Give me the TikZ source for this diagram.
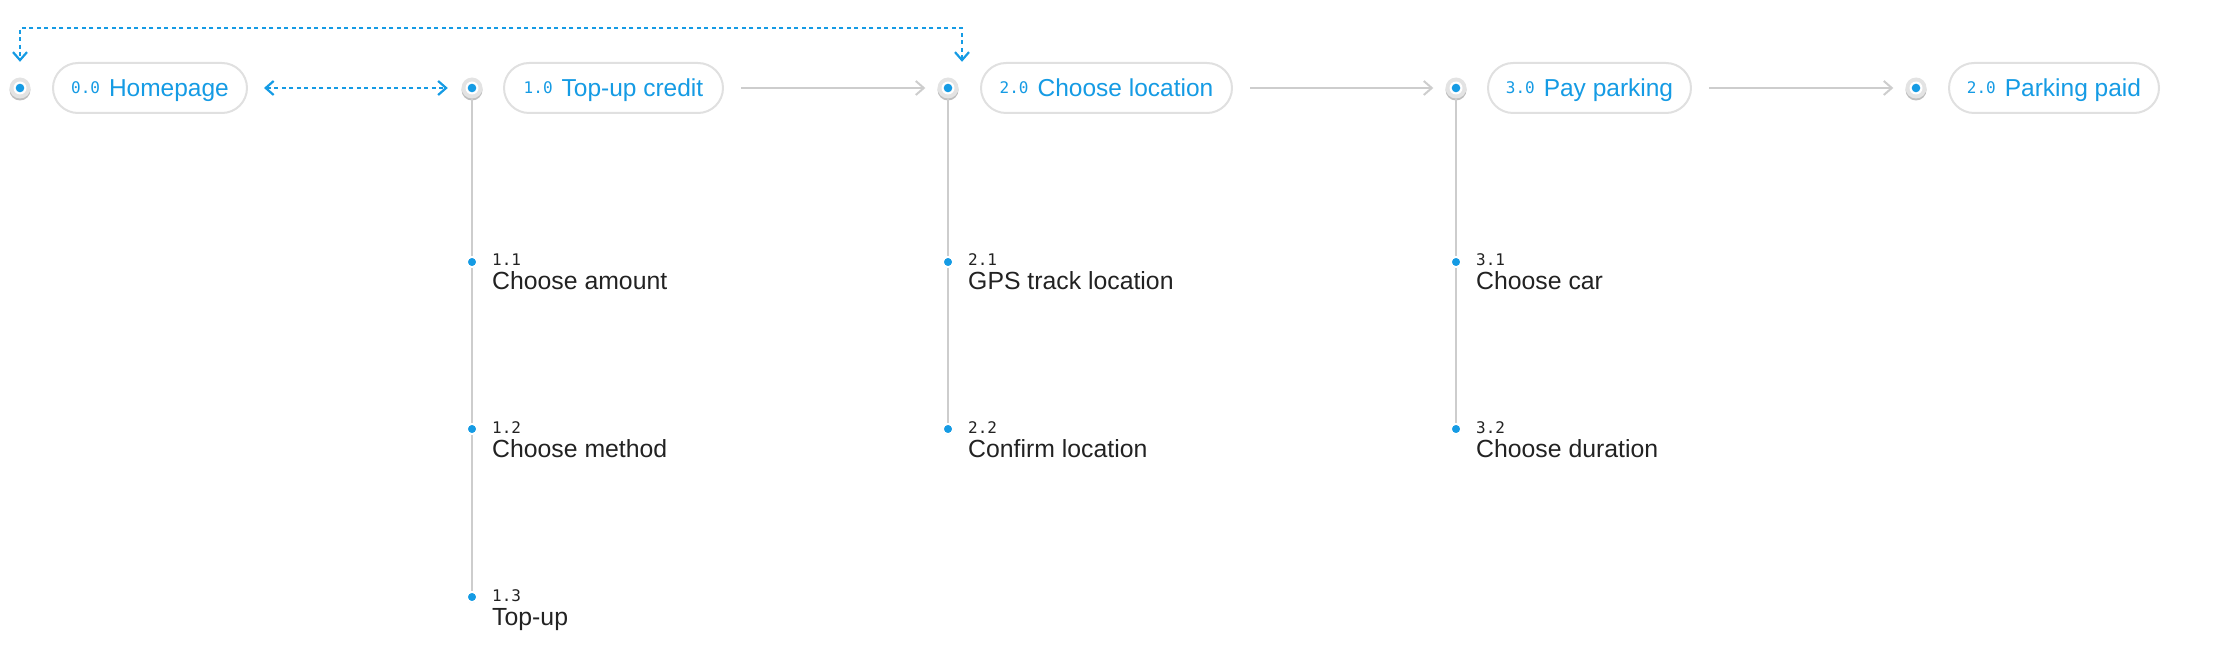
\documentclass[tikz,border=0pt]{standalone}
\usepackage{fontspec}
\setmainfont{Liberation Sans}
\newfontfamily\monofont{DejaVu Sans Mono}
\usetikzlibrary{arrows.meta,positioning,shadows}

\definecolor{brand}{HTML}{159BE4}
\definecolor{linegrey}{HTML}{CDCDCD}
\definecolor{pillgrey}{HTML}{E0E0E0}
\definecolor{hubgrey}{HTML}{E3E3E3}
\definecolor{textdark}{HTML}{222222}

\newcommand{\stepno}[1]{\raisebox{3.5pt}{\monofont\fontsize{16}{17}\selectfont #1}}

\tikzset{
  hub/.style={circle,minimum size=21pt,inner sep=0pt,fill=hubgrey,
    drop shadow={shadow xshift=0pt,shadow yshift=-2pt,opacity=0.25,fill=black},
    path picture={\fill[white] (path picture bounding box.center) circle (6.5pt);
                  \fill[brand] (path picture bounding box.center) circle (4.3pt);}},
  pill/.style={draw=pillgrey,line width=2pt,fill=white,rounded corners=25pt,
    minimum height=50pt,text height=17.5pt,text depth=0pt,inner xsep=0pt,
    text=brand,font=\fontsize{24.5}{26}\selectfont},
  subdot/.style={circle,inner sep=0pt,minimum size=10.5pt,fill=brand,draw=white,line width=2pt,
    drop shadow={shadow xshift=0pt,shadow yshift=-1pt,opacity=0.12,fill=black}},
  subno/.style={anchor=base west,inner sep=0pt,text=textdark,font=\monofont\fontsize{16}{17}\selectfont},
  subtext/.style={anchor=base west,inner sep=0pt,text=textdark,font=\fontsize{24.8}{26}\selectfont},
  flowline/.style={draw=linegrey,line width=2pt,-{Straight Barb[length=8pt,width=14pt]}},
  stemline/.style={draw=linegrey,line width=2pt},
  backlink/.style={draw=brand,line width=2.2pt,dash pattern=on 4pt off 3.5pt,
    {Straight Barb[length=8pt,width=14pt]}-{Straight Barb[length=8pt,width=14pt]}},
}

\begin{document}
\begin{tikzpicture}[x=1pt,y=-1pt]
  \useasboundingbox (0,0) rectangle (2236,668);

  % main row
  \node[hub] (h0) at (20,88) {};
  \node[pill,minimum width=194pt] (p0) at (150,88) {\stepno{0.0}\hspace{9pt}Homepage};
  \node[hub] (h1) at (472,88) {};
  \node[pill,minimum width=219pt] (p1) at (613.5,88) {\stepno{1.0}\hspace{9pt}Top-up credit};
  \node[hub] (h2) at (948,88) {};
  \node[pill,minimum width=251pt] (p2) at (1106.5,88) {\stepno{2.0}\hspace{9pt}Choose location};
  \node[hub] (h3) at (1456,88) {};
  \node[pill,minimum width=203pt] (p3) at (1589.5,88) {\stepno{3.0}\hspace{9pt}Pay parking};
  \node[hub] (h4) at (1916,88) {};
  \node[pill,minimum width=210pt] (p4) at (2054,88) {\stepno{2.0}\hspace{9pt}Parking paid};

  \draw[backlink,shorten <=16pt,shorten >=13.5pt] (p0) -- (h1);
  \draw[flowline,shorten <=17pt,shorten >=12pt] (p1) -- (h2);
  \draw[flowline,shorten <=17pt,shorten >=12pt] (p2) -- (h3);
  \draw[flowline,shorten <=17pt,shorten >=12pt] (p3) -- (h4);
  \draw[backlink,shorten <=15.5pt,shorten >=15.5pt]
    ([xshift=14pt]h2.north) -- ++(0,-49.5) -| (h0.north);

  % top-up credit
  \node[subdot] (s11) at (472,262) {};
  \node[subno] (n11) at ([xshift=20pt,yshift=-4pt]s11.center) {1.1};
  \node[subtext] (t11) at ([xshift=20pt,yshift=-28pt]s11.center) {Choose amount};
  \node[subdot] (s12) at (472,429) {};
  \node[subno] (n12) at ([xshift=20pt,yshift=-4pt]s12.center) {1.2};
  \node[subtext] (t12) at ([xshift=20pt,yshift=-28pt]s12.center) {Choose method};
  \node[subdot] (s13) at (472,597) {};
  \node[subno] (n13) at ([xshift=20pt,yshift=-4pt]s13.center) {1.3};
  \node[subtext] (t13) at ([xshift=20pt,yshift=-28pt]s13.center) {Top-up};
  \draw[stemline] (h1) -- (s11) -- (s12) -- (s13);

  % choose location
  \node[subdot] (s21) at (948,262) {};
  \node[subno] (n21) at ([xshift=20pt,yshift=-4pt]s21.center) {2.1};
  \node[subtext] (t21) at ([xshift=20pt,yshift=-28pt]s21.center) {GPS track location};
  \node[subdot] (s22) at (948,429) {};
  \node[subno] (n22) at ([xshift=20pt,yshift=-4pt]s22.center) {2.2};
  \node[subtext] (t22) at ([xshift=20pt,yshift=-28pt]s22.center) {Confirm location};
  \draw[stemline] (h2) -- (s21) -- (s22);

  % pay parking
  \node[subdot] (s31) at (1456,262) {};
  \node[subno] (n31) at ([xshift=20pt,yshift=-4pt]s31.center) {3.1};
  \node[subtext] (t31) at ([xshift=20pt,yshift=-28pt]s31.center) {Choose car};
  \node[subdot] (s32) at (1456,429) {};
  \node[subno] (n32) at ([xshift=20pt,yshift=-4pt]s32.center) {3.2};
  \node[subtext] (t32) at ([xshift=20pt,yshift=-28pt]s32.center) {Choose duration};
  \draw[stemline] (h3) -- (s31) -- (s32);
\end{tikzpicture}
\end{document}
